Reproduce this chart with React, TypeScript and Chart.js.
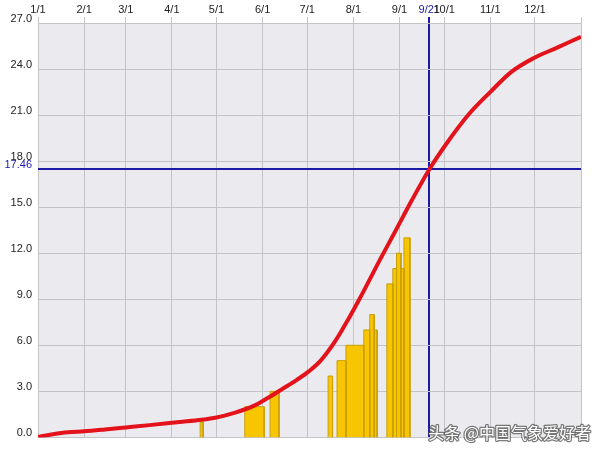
import React, { useEffect, useRef } from "react";
import { Chart, registerables } from "chart.js";

Chart.register(...registerables);

// Month tick labels (x axis at top), day-of-year positions
const MONTH_LABELS = ["1/1", "2/1", "3/1", "4/1", "5/1", "6/1", "7/1", "8/1", "9/1", "10/1", "11/1", "12/1"];
const MONTH_DAYS = [0, 31, 59, 90, 120, 151, 181, 212, 243, 273, 304, 334];
const YEAR_END = 365;

// Marker (current date / value)
const MARK_DAY = 263;
const MARK_LABEL = "9/21";
const MARK_VALUE = 17.46;

// Y ticks
const Y_TICKS = [0, 3, 6, 9, 12, 15, 18, 21, 24, 27];

// Cumulative curve (red)
const CURVE_DAYS = [0, 10, 20, 31, 45, 59, 75, 95, 110, 120, 132, 145, 155, 165, 174, 182, 190, 200, 208, 216, 230, 240, 251, 263, 275, 290, 304, 318, 333, 349, 365];
const CURVE_VALUES = [0.03, 0.2, 0.33, 0.4, 0.52, 0.65, 0.8, 1.0, 1.15, 1.3, 1.6, 2.05, 2.6, 3.2, 3.75, 4.3, 5.0, 6.3, 7.6, 9.0, 11.6, 13.4, 15.4, 17.46, 19.2, 21.1, 22.5, 23.8, 24.7, 25.4, 26.1];

// Bars (yellow): start day, end day, value
const BAR_START = [109, 139, 156, 195, 201, 207, 219, 223, 226, 234.5, 238.5, 241, 244, 246];
const BAR_END = [111, 152, 162, 198, 207, 219, 223, 226, 228, 238.5, 241, 244, 246, 250];
const BAR_VALUES = [1, 2, 3, 4, 5, 6, 7, 8, 7, 10, 11, 12, 11, 13];

const WATERMARK = "头条 @中国气象爱好者";

const BLUE = "#1a1aa6";
const GRID = "#c4c4c8";

export default function App() {
  const ref = useRef<HTMLCanvasElement | null>(null);

  useEffect(() => {
    const canvas = ref.current;
    if (!canvas) return;

    const bgPlugin = {
      id: "bg",
      beforeDraw(chart: any) {
        const { ctx, chartArea } = chart;
        ctx.save();
        ctx.fillStyle = "#ffffff";
        ctx.fillRect(0, 0, chart.width, chart.height);
        ctx.fillStyle = "#ebebef";
        ctx.fillRect(chartArea.left, chartArea.top, chartArea.right - chartArea.left, chartArea.bottom - chartArea.top);
        ctx.restore();
      },
      afterDraw(chart: any) {
        const { ctx } = chart;
        ctx.save();
        ctx.font = '16px "Noto Sans CJK SC", sans-serif';
        ctx.textAlign = "right";
        ctx.textBaseline = "alphabetic";
        ctx.lineWidth = 2.5;
        ctx.lineJoin = "round";
        ctx.strokeStyle = "rgba(70,70,70,0.7)";
        ctx.strokeText(WATERMARK, 591, 439);
        ctx.fillStyle = "#ffffff";
        ctx.fillText(WATERMARK, 591, 439);
        ctx.restore();
      },
    };

    const xTickValues = [...MONTH_DAYS, MARK_DAY, YEAR_END].sort((a, b) => a - b);
    const yTickValues = [...Y_TICKS, MARK_VALUE].sort((a, b) => a - b);

    const barSets = BAR_VALUES.map((v, i) => ({
      type: "line" as const,
      data: [
        { x: BAR_START[i], y: 0 },
        { x: BAR_START[i], y: v },
        { x: BAR_END[i], y: v },
        { x: BAR_END[i], y: 0 },
      ],
      fill: "origin",
      backgroundColor: "#f7c600",
      borderColor: "#c99e00",
      borderWidth: 1,
      pointRadius: 0,
      tension: 0,
      order: 2,
    }));

    const chart = new Chart(canvas, {
      type: "line",
      data: {
        datasets: [
          {
            data: CURVE_DAYS.map((d, i) => ({ x: d, y: CURVE_VALUES[i] })),
            borderColor: "#e3121b",
            borderWidth: 4,
            pointRadius: 0,
            fill: false,
            cubicInterpolationMode: "monotone",
            order: 0,
          } as any,
          ...barSets,
        ],
      },
      options: {
        responsive: false,
        animation: false,
        devicePixelRatio: 1,
        layout: { padding: { top: 0, left: 0, right: 19, bottom: 11 } },
        plugins: { legend: { display: false }, tooltip: { enabled: false } },
        scales: {
          x: {
            type: "linear",
            position: "top",
            min: 0,
            max: YEAR_END,
            afterBuildTicks: (s: any) => {
              s.ticks = xTickValues.map((v) => ({ value: v }));
            },
            afterFit: (s: any) => {
              s.height = 23;
            },
            ticks: {
              autoSkip: false,
              maxRotation: 0,
              padding: 0,
              font: { family: '"Liberation Sans", Arial, sans-serif', size: 11 },
              color: (c: any) => (c.tick && c.tick.value === MARK_DAY ? BLUE : "#222222"),
              callback: (v: any) => {
                if (v === MARK_DAY) return MARK_LABEL;
                const idx = MONTH_DAYS.indexOf(v);
                return idx >= 0 ? MONTH_LABELS[idx] : "";
              },
            },
            grid: {
              drawTicks: true,
              tickLength: 6,
              color: (c: any) => (c.tick && c.tick.value === MARK_DAY ? BLUE : GRID),
              lineWidth: (c: any) => (c.tick && c.tick.value === MARK_DAY ? 2 : 1),
            },
            border: { display: false },
          },
          y: {
            type: "linear",
            min: 0,
            max: 27,
            afterBuildTicks: (s: any) => {
              s.ticks = yTickValues.map((v) => ({ value: v }));
            },
            afterFit: (s: any) => {
              s.width = 38;
            },
            ticks: {
              autoSkip: false,
              padding: 6,
              labelOffset: -4,
              font: { family: '"Liberation Sans", Arial, sans-serif', size: 11 },
              color: (c: any) => (c.tick && c.tick.value === MARK_VALUE ? BLUE : "#222222"),
              callback: (v: any) => (v === MARK_VALUE ? String(MARK_VALUE) : Number(v).toFixed(1)),
            },
            grid: {
              drawTicks: false,
              color: (c: any) => (c.tick && c.tick.value === MARK_VALUE ? BLUE : GRID),
              lineWidth: (c: any) => (c.tick && c.tick.value === MARK_VALUE ? 2 : 1),
            },
            border: { display: false },
          },
        },
      } as any,
      plugins: [bgPlugin],
    });

    return () => chart.destroy();
  }, []);

  return (
    <div style={{ position: "fixed", left: 0, top: 0, width: 600, height: 450, background: "#fff" }}>
      <canvas ref={ref} width={600} height={450} style={{ display: "block" }} />
    </div>
  );
}
